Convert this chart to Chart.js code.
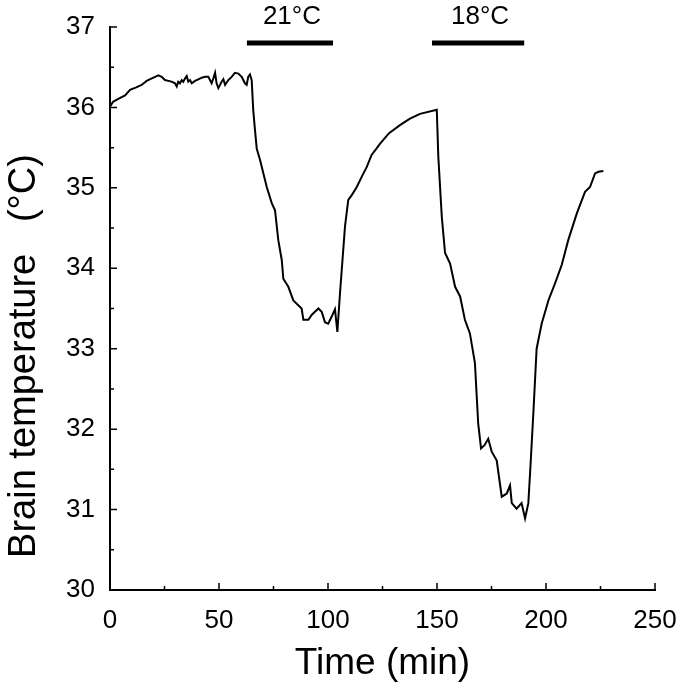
<!DOCTYPE html>
<html>
<head>
  <title>Brain temperature</title>
  <script src="https://cdn.jsdelivr.net/npm/chart.js"></script>
  <style>
    body { margin: 0; background: #fff; }
  </style>
</head>
<body>
  <canvas id="tempChart" width="685" height="693"></canvas>

  <script>
    // values
    const times = [0, 1.4, 4, 6.9, 9.2, 12, 14.5, 16.8, 19.9, 22.2, 23.7, 25.2, 26.8, 28.3, 29.8, 30.6, 31.3, 32.1, 32.9, 33.6,
      34.4, 35.2, 35.9, 36.7, 37.5, 39.0, 40.5, 42.1, 43.6, 45.1, 46.6, 47.4, 48.2, 48.9, 49.7, 50.5, 51.2, 52.0, 52.8, 53.5,
      54.3, 55.8, 57.3, 58.9, 60.4, 61.9, 62.7, 63.4, 64.2, 65.0, 65.7, 66.5, 67.3, 68.8, 71.9, 74.2, 75.7, 77.2, 78.8, 79.5,
      81.8, 84.1, 87.9, 88.7, 91.0, 92.5, 95.6, 97.1, 98.6, 100.1, 101.7, 103.2, 104.3, 105.5, 107.8, 109.3, 110.9, 113.2, 115.5, 117.8,
      120.0, 122.3, 123.9, 128, 133.0, 137.6, 142.2, 149.9, 150.6, 152.2, 153.7, 156.0, 158.3, 160.6, 162.8, 165.1, 167.4, 168.9, 170.2, 171.8,
      173.5, 175.1, 177.4, 179.7, 182.0, 183.5, 184.3, 186.5, 188.8, 190.4, 191.9, 193.0, 194.2, 195.7, 198.0, 201.1, 204.1, 207.2, 210.2, 214.1,
      217.9, 220.2, 222.5, 224, 226.3];
    const temps = [36.01, 36.07, 36.11, 36.15, 36.22, 36.25, 36.28, 36.33, 36.37, 36.40, 36.38, 36.34, 36.33, 36.32, 36.30, 36.26, 36.32, 36.30, 36.34, 36.32,
      36.36, 36.39, 36.32, 36.34, 36.30, 36.33, 36.35, 36.37, 36.38, 36.38, 36.30, 36.36, 36.43, 36.30, 36.24, 36.28, 36.32, 36.35, 36.28, 36.31,
      36.34, 36.38, 36.43, 36.42, 36.38, 36.30, 36.28, 36.38, 36.41, 36.34, 35.97, 35.72, 35.49, 35.35, 35.01, 34.81, 34.72, 34.35, 34.10, 33.87,
      33.77, 33.60, 33.50, 33.36, 33.36, 33.42, 33.50, 33.46, 33.33, 33.31, 33.40, 33.49, 33.21, 33.69, 34.52, 34.85, 34.91, 35.01, 35.14, 35.26,
      35.41, 35.49, 35.55, 35.68, 35.78, 35.86, 35.92, 35.97, 35.39, 34.64, 34.19, 34.06, 33.77, 33.65, 33.36, 33.19, 32.82, 32.07, 31.76, 31.80,
      31.88, 31.72, 31.61, 31.16, 31.20, 31.30, 31.08, 31.01, 31.08, 30.89, 31.08, 31.60, 32.20, 33.00, 33.31, 33.60, 33.81, 34.04, 34.35, 34.68,
      34.95, 35.01, 35.18, 35.20, 35.21];

    // cooling periods (bars at the top)
    const bathLabels = ['21°C', '18°C'];
    const bathStart = [62.8, 147.7];
    const bathEnd = [102.3, 190];
    const bathLevel = 36.8;

    const xMajor = [0, 50, 100, 150, 200, 250];
    const xMinor = [25, 75, 125, 175, 225];
    const yMajor = [30, 31, 32, 33, 34, 35, 36, 37];
    const yMinor = [30.5, 31.5, 32.5, 33.5, 34.5, 35.5, 36.5];

    const FONT = 'Liberation Sans, Arial, sans-serif';

    const points = times.map((t, i) => ({ x: t, y: temps[i] }));

    // ticks pointing into the plot, and the bars with their labels
    const extras = {
      id: 'extras',
      afterDraw(chart) {
        const ctx = chart.ctx;
        const xs = chart.scales.x, ys = chart.scales.y;
        const x0 = xs.left, y0 = ys.bottom;
        ctx.save();
        ctx.strokeStyle = '#000';
        ctx.lineWidth = 1.5;
        ctx.beginPath();
        xMajor.forEach(v => { const p = xs.getPixelForValue(v); ctx.moveTo(p, y0); ctx.lineTo(p, y0 - 7); });
        xMinor.forEach(v => { const p = xs.getPixelForValue(v); ctx.moveTo(p, y0); ctx.lineTo(p, y0 - 4); });
        yMajor.forEach(v => { const p = ys.getPixelForValue(v); ctx.moveTo(x0, p); ctx.lineTo(x0 + 7, p); });
        yMinor.forEach(v => { const p = ys.getPixelForValue(v); ctx.moveTo(x0, p); ctx.lineTo(x0 + 4, p); });
        ctx.stroke();

        ctx.lineWidth = 5;
        ctx.fillStyle = '#000';
        ctx.font = '26px ' + FONT;
        ctx.textAlign = 'center';
        ctx.textBaseline = 'middle';
        const by = ys.getPixelForValue(bathLevel);
        bathLabels.forEach((lab, i) => {
          const a = xs.getPixelForValue(bathStart[i]);
          const b = xs.getPixelForValue(bathEnd[i]);
          ctx.beginPath();
          ctx.moveTo(a, by);
          ctx.lineTo(b, by);
          ctx.stroke();
          ctx.fillText(lab, (a + b) / 2 + 2, by - 26);
        });
        ctx.restore();
      }
    };

    const ctx = document.getElementById('tempChart').getContext('2d');
    new Chart(ctx, {
      type: 'line',
      data: {
        datasets: [{
          data: points,
          borderColor: '#000',
          borderWidth: 2,
          pointRadius: 0,
          tension: 0,
          fill: false
        }]
      },
      options: {
        responsive: false,
        animation: false,
        layout: { padding: { top: 27, right: 30, left: 0, bottom: 0 } },
        plugins: { legend: { display: false }, tooltip: { enabled: false } },
        scales: {
          x: {
            type: 'linear',
            min: 0,
            max: 250,
            grid: { display: false },
            border: { color: '#000', width: 2 },
            ticks: { stepSize: 50, color: '#000', font: { family: FONT, size: 26 }, padding: 7, maxRotation: 0 },
            title: { display: true, text: 'Time (min)', color: '#000', font: { family: FONT, size: 37 }, padding: { top: 0, bottom: 7 } },
            afterFit(scale) { scale.height = 103; }
          },
          y: {
            min: 30,
            max: 37,
            grid: { display: false },
            border: { color: '#000', width: 2 },
            ticks: { stepSize: 1, color: '#000', font: { family: FONT, size: 26 }, padding: 7 },
            title: { display: true, text: 'Brain temperature   (°C)         ', color: '#000', font: { family: FONT, size: 38 }, padding: { top: 2, bottom: 0 } },
            afterFit(scale) { scale.width = 110; }
          }
        }
      },
      plugins: [extras]
    });
  </script>
</body>
</html>
